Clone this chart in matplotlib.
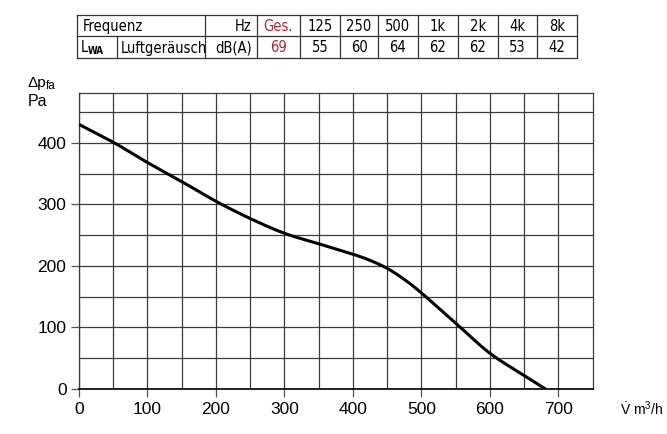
import matplotlib
matplotlib.use("Agg")
import matplotlib.pyplot as plt
import numpy as np
from matplotlib import font_manager

plt.rcParams["mathtext.fontset"] = "custom"
plt.rcParams["mathtext.rm"] = "Liberation Sans"
plt.rcParams["mathtext.it"] = "Liberation Sans"

# Data
flow = [0, 50, 100, 150, 200, 250, 300, 350, 400, 425, 450, 475, 500, 550, 600, 650, 681]
pressure = [430, 401, 368, 337, 305, 277, 253, 236, 219, 209, 196, 178, 156, 107, 58, 22, 0]

freq_labels = ["Ges.", "125", "250", "500", "1k", "2k", "4k", "8k"]
lwa_values = ["69", "55", "60", "64", "62", "62", "53", "42"]

x_ticks = [0, 100, 200, 300, 400, 500, 600, 700]
y_ticks = [0, 100, 200, 300, 400]

names = {f.name for f in font_manager.fontManager.ttflist}
if "Liberation Sans Narrow" in names:
    narrow_kw = dict(family="Liberation Sans Narrow")
else:
    narrow_kw = dict(family="DejaVu Sans", fontstretch="condensed")

W, H = 667, 434
fig = plt.figure(figsize=(W / 100, H / 100), dpi=100)

# main chart
ax = fig.add_axes([79 / W, 1 - 389 / H, (592.7 - 79) / W, (389 - 93) / H])
fx = np.array(flow, float)
fy = np.array(pressure, float)
xs, ys = [], []
for i in range(len(fx) - 1):
    p0 = i - 1 if i > 0 else i
    p3 = i + 2 if i + 2 < len(fx) else i + 1
    t = np.linspace(0, 1, 20)
    for arr, out in ((fx, xs), (fy, ys)):
        P0, P1, P2, P3 = arr[p0], arr[i], arr[i + 1], arr[p3]
        seg = 0.5 * ((2 * P1) + (-P0 + P2) * t + (2 * P0 - 5 * P1 + 4 * P2 - P3) * t ** 2
                     + (-P0 + 3 * P1 - 3 * P2 + P3) * t ** 3)
        out.extend(seg)
ax.plot(xs, ys, color="black", lw=2.2, solid_capstyle="butt", zorder=3)

ax.set_xlim(0, 750)
ax.set_ylim(0, 481)
ax.set_xticks(x_ticks)
ax.set_yticks(y_ticks)
ax.set_xticks(np.arange(50, 750, 100), minor=True)
ax.set_yticks(np.arange(50, 481, 100), minor=True)
ax.grid(True, which="both", color="#3a3a3a", lw=0.9)
ax.tick_params(which="major", direction="out", length=6, width=0.9, color="#555555",
               labelsize=12.5, pad=3)
ax.tick_params(which="minor", length=0)
for lab in ax.get_xticklabels() + ax.get_yticklabels():
    lab.set_fontfamily("Liberation Sans")
for s in ax.spines.values():
    s.set_color("#3a3a3a")
    s.set_linewidth(0.9)
ax.spines["bottom"].set_color("black")
ax.spines["bottom"].set_linewidth(1.2)

fig.text(28 / W, 1 - 87 / H, "\u0394p", fontsize=11, family="Liberation Sans",
         va="baseline", ha="left")
fig.text(46 / W, 1 - 89 / H, "fa", fontsize=8.5, family="Liberation Sans", va="baseline", ha="left")
fig.text(28 / W, 1 - 106 / H, "Pa", fontsize=11.5, family="Liberation Sans", va="baseline", ha="left")
fig.text(620 / W, 1 - 415 / H, r"$\dot{\mathrm{V}}$ m$^3$/h", fontsize=10,
         family="Liberation Sans", va="baseline", ha="left")

# table
tax = fig.add_axes([0, 0, 1, 1])
tax.set_xlim(0, W)
tax.set_ylim(H, 0)
tax.axis("off")
top, mid, bot = 15, 36, 58
left, right = 77, 577
col_edges = [205, 256.7, 300, 340, 378, 418, 458, 498, 537, 577]
lc = "#333333"
for yy in (top, mid, bot):
    tax.plot([left, right], [yy, yy], color=lc, lw=0.9)
tax.plot([left, left], [top, bot], color=lc, lw=0.9)
for xe in col_edges:
    tax.plot([xe, xe], [top, bot], color=lc, lw=0.9)
tax.plot([117, 117], [mid, bot], color=lc, lw=0.9)

fs = 10.5
red = "#b0283a"
r1 = (top + mid) / 2 + 1
r2 = (mid + bot) / 2 + 1
tax.text(83, r1, "Frequenz", fontsize=fs, va="center", ha="left", **narrow_kw)
tax.text(252, r1, "Hz", fontsize=fs, va="center", ha="right", **narrow_kw)
tax.text(81, r2, "L", fontsize=fs, va="center", ha="left", **narrow_kw)
tax.text(88, r2 + 3, "WA", fontsize=7, va="center", ha="left", fontweight="bold",
         **narrow_kw)
tax.text(121, r2, "Luftgeräusch", fontsize=fs, va="center", ha="left", **narrow_kw)
tax.text(252, r2, "dB(A)", fontsize=fs, va="center", ha="right", **narrow_kw)
for i, (lab, val) in enumerate(zip(freq_labels, lwa_values)):
    cx = (col_edges[i + 1] + col_edges[i + 2]) / 2
    c = red if i == 0 else "black"
    tax.text(cx, r1, lab, fontsize=fs, va="center", ha="center", color=c, **narrow_kw)
    tax.text(cx, r2, val, fontsize=fs, va="center", ha="center", color=c, **narrow_kw)

fig.savefig("out.png", dpi=100)
